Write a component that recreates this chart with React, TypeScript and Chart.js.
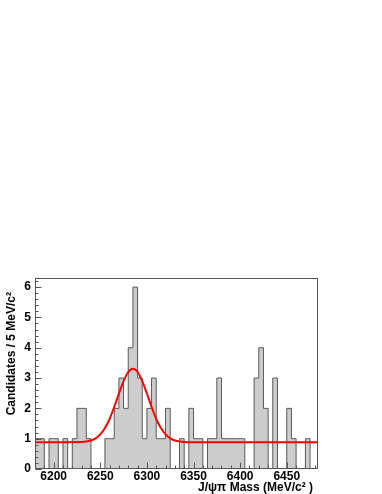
import React, { useEffect, useRef } from "react";
import { Chart, registerables } from "chart.js";

Chart.register(...registerables);

// Histogram: lower bin edges (MeV/c^2) and candidate counts per 5 MeV/c^2 bin
const binLowEdges = [
  6180, 6185, 6190, 6195, 6200, 6205, 6210, 6215, 6220, 6225, 6230, 6235,
  6240, 6245, 6250, 6255, 6260, 6265, 6270, 6275, 6280, 6285, 6290, 6295,
  6300, 6305, 6310, 6315, 6320, 6325, 6330, 6335, 6340, 6345, 6350, 6355,
  6360, 6365, 6370, 6375, 6380, 6385, 6390, 6395, 6400, 6405, 6410, 6415,
  6420, 6425, 6430, 6435, 6440, 6445, 6450, 6455, 6460, 6465, 6470, 6475,
  6480,
];
const binCounts = [
  1, 1, 0, 1, 1, 0, 1, 0, 1, 2, 2, 1,
  0, 0, 0, 1, 1, 2, 3, 2, 4, 6, 3, 1,
  2, 3, 1, 1, 2, 0, 0, 1, 0, 2, 1, 1,
  0, 1, 1, 3, 1, 1, 1, 1, 1, 0, 0, 3,
  4, 2, 0, 3, 0, 0, 2, 1, 0, 0, 1, 0,
  0,
];
const histUpperEdge = 6485;

// Fit curve (signal + flat background)
const fitMass = [
  6180, 6230, 6240, 6245, 6250, 6255, 6260, 6265, 6270, 6275, 6280, 6285,
  6290, 6295, 6300, 6305, 6310, 6315, 6320, 6325, 6330, 6340, 6350, 6484,
];
const fitValues = [
  0.88, 0.89, 0.94, 1.01, 1.14, 1.35, 1.65, 2.05, 2.49, 2.9, 3.2, 3.31,
  3.2, 2.9, 2.49, 2.05, 1.65, 1.35, 1.14, 1.01, 0.94, 0.89, 0.88, 0.88,
];

// Axes
const xMajorTicks = [6200, 6250, 6300, 6350, 6400, 6450];
const xMinorTicks = [
  6190, 6210, 6220, 6230, 6240, 6260, 6270, 6280, 6290, 6310, 6320, 6330,
  6340, 6360, 6370, 6380, 6390, 6410, 6420, 6430, 6440, 6460, 6470, 6480,
];
const yMajorTicks = [0, 1, 2, 3, 4, 5, 6];
const yMinorTicks = [
  0.2, 0.4, 0.6, 0.8, 1.2, 1.4, 1.6, 1.8, 2.2, 2.4, 2.6, 2.8, 3.2, 3.4,
  3.6, 3.8, 4.2, 4.4, 4.6, 4.8, 5.2, 5.4, 5.6, 5.8, 6.2,
];
const xMin = 6180;
const xMax = 6483.5;
const yMin = 0;
const yMax = 6.3;
const xTitle = "J/\u03c8\u03c0 Mass (MeV/c\u00b2 )";
const yTitle = "Candidates / 5 MeV/c\u00b2";

const FONT = '"Liberation Sans", Arial, Helvetica, sans-serif';
const AXIS_COLOR = "#555555";

const rootAxesPlugin = {
  id: "rootAxes",
  afterDatasetsDraw(chart: any) {
    const ctx = chart.ctx as CanvasRenderingContext2D;
    const { left, right, top, bottom } = chart.chartArea;
    const xs = chart.scales.x;
    const ys = chart.scales.y;
    ctx.save();
    ctx.strokeStyle = AXIS_COLOR;
    ctx.lineWidth = 1;
    // frame
    ctx.strokeRect(Math.round(left) + 0.5, Math.round(top) + 0.5, Math.round(right - left) - 1, Math.round(bottom - top) - 1);
    ctx.beginPath();
    const bY = Math.round(bottom) - 0.5;
    const lX = Math.round(left) + 0.5;
    xMajorTicks.forEach((v) => {
      const px = Math.round(xs.getPixelForValue(v)) + 0.5;
      ctx.moveTo(px, bY);
      ctx.lineTo(px, bY - 6);
    });
    xMinorTicks.forEach((v) => {
      const px = Math.round(xs.getPixelForValue(v)) + 0.5;
      ctx.moveTo(px, bY);
      ctx.lineTo(px, bY - 3);
    });
    yMajorTicks.forEach((v) => {
      const py = Math.round(ys.getPixelForValue(v)) + 0.5;
      ctx.moveTo(lX, py);
      ctx.lineTo(lX + 6, py);
    });
    yMinorTicks.forEach((v) => {
      const py = Math.round(ys.getPixelForValue(v)) + 0.5;
      ctx.moveTo(lX, py);
      ctx.lineTo(lX + 3, py);
    });
    ctx.stroke();

    // tick labels
    ctx.fillStyle = "#000000";
    ctx.font = `bold 12px ${FONT}`;
    ctx.textAlign = "right";
    ctx.textBaseline = "middle";
    yMajorTicks.forEach((v) => {
      ctx.fillText(String(v), left - 4, ys.getPixelForValue(v));
    });
    ctx.textAlign = "center";
    ctx.textBaseline = "middle";
    xMajorTicks.forEach((v) => {
      ctx.fillText(String(v), xs.getPixelForValue(v), bottom + 8);
    });

    // axis titles
    ctx.font = `bold 12px ${FONT}`;
    ctx.textAlign = "right";
    ctx.textBaseline = "middle";
    ctx.fillText(xTitle, right - 5, bottom + 19);

    ctx.save();
    ctx.translate(12, top + 14);
    ctx.rotate(-Math.PI / 2);
    ctx.textAlign = "right";
    ctx.textBaseline = "middle";
    ctx.fillText(yTitle, 0, 0);
    ctx.restore();

    ctx.restore();
  },
};

export default function App() {
  const canvasRef = useRef<HTMLCanvasElement | null>(null);

  useEffect(() => {
    document.body.style.margin = "0";
    const canvas = canvasRef.current;
    if (!canvas) return;

    const histPoints = binLowEdges.map((x, i) => ({ x, y: binCounts[i] }));
    histPoints.push({ x: histUpperEdge, y: 0 });
    const fitPoints = fitMass.map((x, i) => ({ x, y: fitValues[i] }));

    const chart = new Chart(canvas, {
      type: "line",
      data: {
        datasets: [
          {
            label: "fit",
            data: fitPoints,
            borderColor: "#ff0000",
            borderWidth: 2,
            pointRadius: 0,
            cubicInterpolationMode: "monotone",
            fill: false,
            order: 0,
          },
          {
            label: "data",
            data: histPoints,
            stepped: true,
            borderColor: "#5a5a5a",
            borderWidth: 1,
            backgroundColor: "#cdcdcd",
            pointRadius: 0,
            fill: "origin",
            order: 1,
          },
        ],
      },
      options: {
        animation: false,
        responsive: false,
        devicePixelRatio: 1,
        layout: { padding: { left: 35, right: 64, top: 278, bottom: 25 } },
        plugins: {
          legend: { display: false },
          tooltip: { enabled: false },
        },
        scales: {
          x: { type: "linear", min: xMin, max: xMax, display: false },
          y: { type: "linear", min: yMin, max: yMax, display: false },
        },
      },
      plugins: [rootAxesPlugin],
    } as any);

    return () => chart.destroy();
  }, []);

  return (
    <div style={{ position: "absolute", left: 0, top: 0, width: 382, height: 494, background: "#ffffff" }}>
      <canvas ref={canvasRef} width={382} height={494} style={{ display: "block", width: 382, height: 494 }} />
    </div>
  );
}
